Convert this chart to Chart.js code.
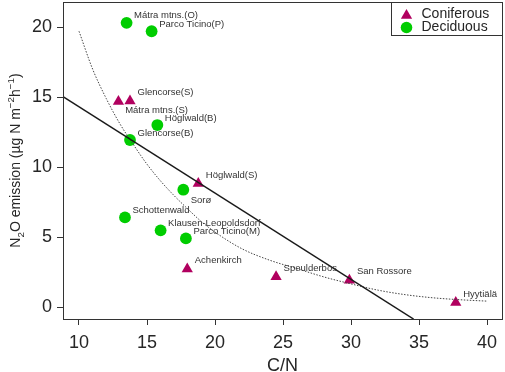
<!DOCTYPE html>
<html>
<head>
<meta charset="utf-8">
<script src="https://cdn.jsdelivr.net/npm/chart.js@4.4.0/dist/chart.umd.min.js"></script>
<style>
  html, body { margin: 0; padding: 0; background: #fff; }
  #chart { display: block; }
</style>
</head>
<body>
<canvas id="chart" width="505" height="372"></canvas>
<script>
// values: C/N ratio vs N2O emission per site
var coniferSites = ['Mátra mtns.(S)', 'Glencorse(S)', 'Höglwald(S)', 'Achenkirch', 'Speulderbos', 'San Rossore', 'Hyytiälä'];
var coniferCN = [12.9, 13.75, 18.77, 17.96, 24.49, 29.88, 37.7];
var coniferN2O = [14.68, 14.71, 8.82, 2.71, 2.16, 1.92, 0.32];

var decidSites = ['Mátra mtns.(O)', 'Parco Ticino(P)', 'Höglwald(B)', 'Glencorse(B)', 'Sorø', 'Schottenwald', 'Klausen-Leopoldsdorf', 'Parco Ticino(M)'];
var decidCN = [13.5, 15.34, 15.76, 13.75, 17.67, 13.38, 16.0, 17.86];
var decidN2O = [20.3, 19.7, 13.0, 11.93, 8.38, 6.4, 5.48, 4.9];

// straight regression line, read where it leaves the plot box
var lineCN = [8.75, 34.6];
var lineN2O = [15.07, -0.86];

// dotted curve, read along its path
var curveCN = [10, 11, 12, 13, 14, 15, 16, 17, 18, 19, 20, 22, 24, 26, 28, 30, 32, 34, 36, 38, 40];
var curveN2O = [19.7, 17.0, 14.9, 13.1, 11.6, 10.2, 9.0, 7.95, 7.0, 6.1, 5.35, 4.15, 3.35, 2.75, 2.15, 1.65, 1.2, 0.88, 0.66, 0.52, 0.42];

var xTicks = [10, 15, 20, 25, 30, 35, 40];
var yTicks = [0, 5, 10, 15, 20];
var seriesNames = ['Coniferous', 'Deciduous'];

var colors = { conifer: '#B1005F', decid: '#00CD00', ink: '#262626', label: '#333333' };
var fontFamily = '"Liberation Sans", Arial, Helvetica, sans-serif';

// label placement relative to the marker, a few moved below their point
var labelOffset = { dx: 7.5, dy: -7 };
var labelNudge = {
    'Mátra mtns.(S)': [6.7, 8.5],
    'Sorø': [7.4, 10.7]
};

var toPoints = function (xs, ys) {
    return xs.map(function (x, i) { return { x: x, y: ys[i] }; });
};

var fixTicks = function (list) {
    return function (scale) {
        scale.ticks = list.map(function (v) { return { value: v }; });
    };
};

// fixed axis box sizes, no extra room for overhanging tick labels
var fitAxis = function (size) {
    return function (s) {
        if (s.isHorizontal()) { s.height = size; } else { s.width = size; }
        s.paddingTop = 0;
        s.paddingBottom = 0;
        s.paddingLeft = 0;
        s.paddingRight = 0;
    };
};

var drawTriangle = function (ctx, x, y, r) {
    ctx.beginPath();
    ctx.moveTo(x, y - r);
    ctx.lineTo(x + r * Math.sqrt(3) / 2, y + r / 2);
    ctx.lineTo(x - r * Math.sqrt(3) / 2, y + r / 2);
    ctx.closePath();
    ctx.fill();
};

var drawDot = function (ctx, x, y, r) {
    ctx.beginPath();
    ctx.arc(x, y, r, 0, Math.PI * 2);
    ctx.fill();
};

var siteLabels = {
    id: 'siteLabels',
    afterDatasetsDraw: function (chart) {
        var ctx = chart.ctx;
        ctx.save();
        ctx.font = '9.5px ' + fontFamily;
        ctx.fillStyle = colors.label;
        ctx.textAlign = 'left';
        ctx.textBaseline = 'middle';
        [[2, coniferSites, -1.5], [3, decidSites, 0]].forEach(function (set) {
            var meta = chart.getDatasetMeta(set[0]);
            meta.data.forEach(function (pt, i) {
                var name = set[1][i];
                var off = labelNudge[name] || [labelOffset.dx, labelOffset.dy + set[2]];
                ctx.fillText(name, pt.x + off[0], pt.y + off[1]);
            });
        });
        ctx.restore();
    }
};

var frame = {
    id: 'frame',
    afterDraw: function (chart) {
        var ctx = chart.ctx, a = chart.chartArea;
        ctx.save();
        ctx.strokeStyle = '#333';
        ctx.lineWidth = 1;
        ctx.strokeRect(Math.round(a.left) + 0.5, Math.round(a.top) + 0.5,
            Math.round(a.right - a.left), Math.round(a.bottom - a.top));

        // axis titles
        ctx.fillStyle = colors.ink;
        ctx.font = '18px ' + fontFamily;
        ctx.textAlign = 'center';
        ctx.textBaseline = 'alphabetic';
        ctx.fillText('C/N', (a.left + a.right) / 2, 371);

        var base = 14;
        var parts = [['N', 0], ['2', -1], ['O emission (µg N m', 0], ['\u22122', 1], ['h', 0], ['\u22121', 1], [')', 0]];
        var total = 0;
        parts.forEach(function (p) {
            ctx.font = (p[1] ? base * 0.7 : base) + 'px ' + fontFamily;
            p.push(ctx.measureText(p[0]).width);
            total += p[2];
        });
        ctx.translate(20, (a.top + a.bottom) / 2);
        ctx.rotate(-Math.PI / 2);
        ctx.textAlign = 'left';
        var x = -total / 2;
        parts.forEach(function (p) {
            ctx.font = (p[1] ? base * 0.7 : base) + 'px ' + fontFamily;
            var shift = p[1] === -1 ? base * 0.25 : (p[1] === 1 ? -base * 0.45 : 0);
            ctx.fillText(p[0], x, shift);
            x += p[2];
        });
        ctx.restore();

        // legend in the top right corner
        ctx.save();
        ctx.font = '14px ' + fontFamily;
        var tw = Math.max(ctx.measureText(seriesNames[0]).width, ctx.measureText(seriesNames[1]).width);
        var right = Math.round(a.right) + 0.5, top = Math.round(a.top) + 0.5;
        var left = Math.round(right - (30 + tw + 14)) + 0.5;
        var bottom = top + 33;
        ctx.fillStyle = '#fff';
        ctx.fillRect(left, top, right - left, bottom - top);
        ctx.strokeStyle = '#333';
        ctx.strokeRect(left, top, right - left, bottom - top);
        ctx.fillStyle = colors.conifer;
        drawTriangle(ctx, left + 15, top + 13, 6.5);
        ctx.fillStyle = colors.decid;
        drawDot(ctx, left + 15, top + 25, 5.8);
        ctx.fillStyle = colors.ink;
        ctx.textAlign = 'left';
        ctx.textBaseline = 'middle';
        ctx.fillText(seriesNames[0], left + 30, top + 12);
        ctx.fillText(seriesNames[1], left + 30, top + 25);
        ctx.restore();
    }
};

var tickFont = { family: fontFamily, size: 18 };

var chart = new Chart(document.getElementById('chart').getContext('2d'), {
    type: 'scatter',
    data: {
        datasets: [{
            label: 'fit',
            data: toPoints(lineCN, lineN2O),
            showLine: true,
            borderColor: '#1a1a1a',
            borderWidth: 1.5,
            pointRadius: 0,
            order: 0
        }, {
            label: 'curve',
            data: toPoints(curveCN, curveN2O),
            showLine: true,
            borderColor: '#444',
            borderWidth: 1,
            borderDash: [1.5, 1.5],
            cubicInterpolationMode: 'monotone',
            pointRadius: 0,
            order: 1
        }, {
            label: seriesNames[0],
            data: toPoints(coniferCN, coniferN2O),
            pointStyle: 'triangle',
            pointRadius: 6.5,
            backgroundColor: colors.conifer,
            borderWidth: 0,
            order: 2
        }, {
            label: seriesNames[1],
            data: toPoints(decidCN, decidN2O),
            pointStyle: 'circle',
            pointRadius: 5.9,
            backgroundColor: colors.decid,
            borderWidth: 0,
            order: 3
        }]
    },
    options: {
        responsive: false,
        animation: false,
        devicePixelRatio: 1,
        layout: { autoPadding: false, padding: { top: 2, right: 3, left: 0, bottom: 0 } },
        plugins: {
            legend: { display: false },
            tooltip: { enabled: false }
        },
        scales: {
            x: {
                type: 'linear',
                min: 8.824,
                max: 41.1,
                afterBuildTicks: fixTicks(xTicks),
                afterFit: fitAxis(53),
                grid: { drawOnChartArea: false, tickLength: 6, color: '#333', lineWidth: 1 },
                border: { display: false },
                ticks: { font: tickFont, color: colors.ink, padding: 7, maxRotation: 0, autoSkip: false }
            },
            y: {
                type: 'linear',
                min: -0.857,
                max: 21.79,
                afterBuildTicks: fixTicks(yTicks),
                afterFit: fitAxis(63),
                grid: { drawOnChartArea: false, tickLength: 6, color: '#333', lineWidth: 1 },
                border: { display: false },
                ticks: { font: tickFont, color: colors.ink, padding: 5, autoSkip: false }
            }
        }
    },
    plugins: [siteLabels, frame]
});
</script>
</body>
</html>
